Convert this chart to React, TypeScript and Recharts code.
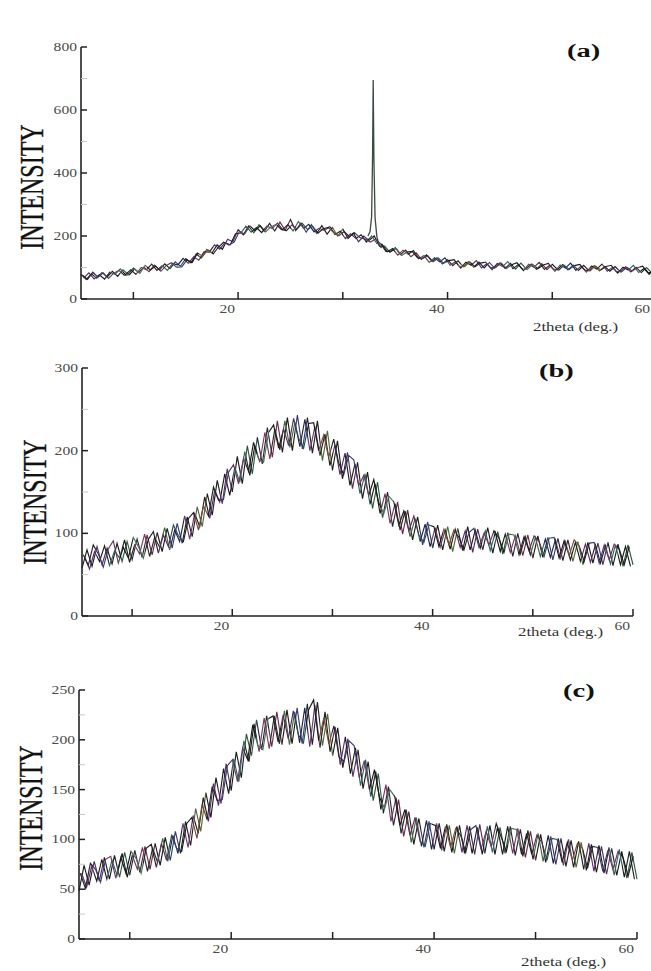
import React from "react";
import { Line, LineChart, XAxis, YAxis } from "recharts";

const SERIF = '"Liberation Serif", "Times New Roman", serif';

// scans are sampled every half degree; scans 2 and 3 are offset by 1/4 and 1/8 degree
const THETA_START = 5;
const THETA_STEP = 0.5;
const SCAN_OFFSETS = [0, 0.25, 0.125];

const xTicks = [10, 20, 30, 40, 50, 60];
const xLabels = [20, 40, 60];

// ---- (a) ----
const aScan1 = [
  78, 62, 80, 66, 84, 70, 88, 72, 93, 79,
  98, 84, 101, 87, 108, 92, 112, 96, 118, 104,
  128, 115, 143, 130, 158, 146, 172, 158, 190, 182,
  220, 204, 232, 210, 236, 214, 240, 216, 244, 218,
  252, 217, 241, 212, 236, 208, 233, 206, 228, 200,
  222, 192, 210, 182, 200, 186, 200, 168, 168, 148,
  163, 141, 155, 134, 147, 126, 140, 120, 131, 111,
  125, 106, 121, 103, 119, 101, 117, 99, 116, 98,
  115, 97, 113, 95, 114, 96, 111, 94, 112, 93,
  110, 94, 109, 92, 108, 91, 107, 90, 106, 89,
  104, 88, 103, 87, 102, 86, 101, 84, 100, 83,
  98,
];
const aScan2 = [
  66, 83, 64, 77, 63, 85, 78, 96, 77, 93,
  78, 100, 93, 111, 91, 106, 91, 113, 108, 129,
  113, 134, 123, 150, 149, 172, 158, 179, 172, 207,
  209, 231, 212, 227, 211, 232, 224, 241, 220, 236,
  216, 246, 224, 237, 213, 225, 217, 230, 205, 215,
  192, 207, 192, 204, 181, 200, 176, 174, 150, 160,
  139, 155, 142, 154, 128, 138, 116, 131, 118, 131,
  107, 118, 98, 117, 107, 122, 99, 112, 93, 113,
  103, 119, 96, 109, 90, 110, 101, 116, 94, 107,
  88, 108, 98, 114, 91, 104, 85, 105, 95, 111,
  88, 100, 82, 101, 92, 107, 84, 97, 78, 97,
];
const aScan3 = [
  76, 62, 85, 69, 83, 65, 82, 91, 76, 77,
  96, 81, 107, 92, 105, 88, 106, 115, 101, 102,
  124, 116, 146, 136, 156, 143, 165, 180, 171, 181,
  214, 206, 232, 217, 232, 213, 229, 237, 221, 217,
  235, 222, 240, 221, 231, 209, 223, 227, 211, 201,
  214, 198, 210, 195, 190, 181, 190, 175, 151, 152,
  160, 138, 149, 151, 131, 129, 137, 118, 130, 113,
  122, 125, 104, 103, 118, 102, 114, 117, 99, 101,
  114, 97, 109, 115, 96, 94, 110, 96, 108, 113,
  95, 92, 107, 94, 106, 110, 92, 89, 105, 92,
  103, 107, 88, 86, 101, 89, 99, 104, 85, 83,
];
const aPeakTheta = [32.4, 32.6, 32.75, 32.84, 32.9, 32.97, 33.08, 33.25, 33.45, 33.7];
const aPeak = [200, 214, 262, 450, 695, 440, 258, 198, 172, 162];
const aYTicks = [0, 100, 200, 300, 400, 500, 600, 700, 800];
const aYLabels = [0, 200, 400, 600, 800];

// ---- (b) ----
const bScan1 = [
  58, 80, 60, 84, 62, 82, 63, 88, 66, 90,
  68, 93, 71, 98, 74, 101, 78, 106, 82, 112,
  88, 120, 96, 132, 108, 148, 122, 164, 136, 178,
  150, 193, 160, 206, 172, 216, 184, 228, 192, 236,
  198, 240, 200, 243, 202, 240, 197, 236, 188, 224,
  176, 212, 166, 198, 154, 186, 142, 174, 130, 162,
  119, 150, 108, 138, 99, 128, 92, 120, 86, 114,
  82, 110, 80, 108, 78, 106, 79, 108, 77, 105,
  80, 107, 76, 102, 75, 101, 72, 100, 73, 98,
  70, 97, 71, 95, 68, 94, 67, 92, 66, 90,
  62, 89, 64, 88, 62, 89, 61, 87, 60, 86,
  62,
];
const bScan2 = [
  72, 57, 78, 66, 85, 61, 79, 70, 92, 65,
  86, 75, 99, 72, 95, 83, 107, 80, 104, 90,
  121, 93, 124, 108, 144, 118, 152, 138, 172, 146,
  180, 162, 199, 170, 206, 186, 222, 190, 226, 201,
  236, 204, 234, 205, 238, 200, 229, 194, 220, 182,
  207, 171, 197, 158, 184, 148, 172, 135, 160, 124,
  148, 112, 136, 104, 127, 96, 118, 90, 111, 84,
  107, 83, 104, 81, 105, 83, 103, 80, 104, 82,
  103, 79, 101, 78, 99, 77, 97, 75, 96, 74,
  95, 72, 93, 71, 92, 70, 90, 68, 89, 66,
  87, 65, 86, 64, 85, 63, 86, 62, 84, 60,
];
const bScan3 = [
  74, 61, 86, 75, 59, 81, 91, 64, 83, 70,
  95, 84, 70, 93, 102, 76, 98, 84, 110, 97,
  90, 118, 125, 104, 133, 121, 156, 140, 141, 174,
  183, 160, 191, 175, 210, 190, 186, 222, 231, 203,
  226, 206, 239, 215, 203, 233, 234, 200, 219, 192,
  214, 185, 171, 194, 189, 158, 170, 146, 165, 137,
  124, 145, 138, 110, 127, 103, 121, 98, 89, 110,
  108, 84, 105, 86, 104, 95, 80, 101, 106, 83,
  100, 86, 103, 94, 77, 99, 98, 74, 96, 79,
  97, 90, 72, 94, 95, 70, 91, 73, 92, 85,
  66, 88, 89, 64, 86, 68, 87, 81, 62, 84,
];
const bYTicks = [0, 50, 100, 150, 200, 250, 300];
const bYLabels = [0, 100, 200, 300];

// ---- (c) ----
const cScan1 = [
  48, 74, 54, 78, 58, 82, 60, 84, 62, 87,
  64, 89, 67, 93, 70, 96, 74, 102, 79, 108,
  86, 118, 94, 131, 108, 147, 122, 162, 136, 176,
  149, 188, 162, 206, 184, 220, 190, 224, 193, 228,
  195, 230, 196, 232, 196, 236, 195, 238, 194, 226,
  184, 212, 172, 201, 163, 190, 151, 178, 139, 166,
  126, 153, 114, 140, 103, 128, 95, 121, 92, 118,
  90, 116, 88, 114, 86, 114, 86, 113, 85, 115,
  86, 114, 85, 112, 86, 113, 84, 110, 82, 108,
  79, 105, 77, 103, 75, 101, 73, 99, 72, 97,
  69, 95, 67, 93, 65, 91, 64, 88, 61, 87,
  60,
];
const cScan2 = [
  66, 52, 73, 58, 80, 60, 79, 64, 86, 62,
  84, 70, 92, 68, 91, 77, 101, 78, 104, 86,
  116, 92, 124, 106, 142, 118, 156, 134, 171, 146,
  181, 158, 199, 178, 216, 188, 222, 191, 224, 196,
  229, 195, 228, 197, 232, 193, 235, 192, 228, 188,
  213, 175, 203, 166, 192, 154, 180, 143, 168, 130,
  155, 118, 142, 106, 130, 97, 122, 93, 119, 90,
  116, 89, 115, 87, 113, 87, 114, 86, 112, 85,
  113, 87, 112, 85, 113, 86, 111, 83, 109, 80,
  106, 78, 104, 76, 101, 74, 100, 72, 98, 70,
  96, 68, 94, 66, 92, 64, 90, 62, 88, 60,
];
const cScan3 = [
  66, 51, 76, 70, 57, 80, 83, 61, 82, 66,
  88, 81, 66, 91, 95, 72, 96, 79, 104, 91,
  88, 116, 122, 101, 135, 120, 153, 139, 140, 174,
  180, 158, 192, 180, 215, 194, 190, 221, 224, 198,
  225, 201, 229, 205, 197, 230, 240, 199, 222, 196,
  214, 183, 178, 199, 194, 162, 179, 150, 170, 142,
  131, 150, 143, 114, 130, 104, 122, 98, 93, 116,
  114, 91, 113, 92, 111, 104, 87, 110, 114, 90,
  108, 93, 116, 102, 88, 111, 110, 85, 106, 85,
  104, 97, 79, 101, 100, 77, 97, 79, 96, 91,
  71, 93, 92, 68, 89, 70, 88, 82, 63, 83,
];
const cYTicks = [0, 25, 50, 75, 100, 125, 150, 175, 200, 225, 250];
const cYLabels = [0, 50, 100, 150, 200, 250];

// ink colours cycled along each trace (the original traces change colour)
const INKS = [
  ["#1c1c1c", "#56305c", "#1c1c1c", "#2d5a3f", "#262640", "#6b2c4a", "#1c1c1c", "#3b3b78", "#222", "#4f6a35"],
  ["#5a2d6a", "#1e1e1e", "#2e6660", "#1e1e1e", "#7a3a5a", "#2a2a2a", "#3d6a3d", "#232345", "#6a3a6a", "#1e1e1e"],
  ["#262626", "#3c3c6e", "#6a3a60", "#1a1a1a", "#4a7050", "#202020", "#5c2c5c", "#2b4f5e", "#1a1a1a", "#7a4a3a"],
];
const BANDS = 44;

type Pt = { t: number; v: number };
const toPoints = (vals: number[], start: number): Pt[] =>
  vals.map((v, i) => ({ t: start + THETA_STEP * i, v }));

interface Plot {
  left: number;
  right: number;
  top: number;
  bottom: number;
}

const Y_W = 40;
const X_H = 30;
const PAGE_W = 651;

function makeYTick(left: number, labelled: number[]) {
  return (props: any) => {
    const { y, payload } = props;
    const major = labelled.includes(payload.value);
    return (
      <g>
        <line
          x1={left}
          x2={left + 6}
          y1={y}
          y2={y}
          stroke={major ? "#222" : "#c8c8c8"}
          strokeWidth={major ? 1.5 : 1}
        />
        {major && (
          <text
            transform={`translate(${left - 4},${y + 4}) scale(1.3,1)`}
            textAnchor="end"
            fontSize={12}
            fontFamily={SERIF}
            fill="#4a4a4a"
          >
            {payload.value}
          </text>
        )}
      </g>
    );
  };
}

function makeXTick(bottom: number) {
  return (props: any) => {
    const { x, payload } = props;
    const major = xLabels.includes(payload.value);
    const lx = Math.min(x - 3, PAGE_W - 1);
    return (
      <g>
        <line x1={x} x2={x} y1={bottom} y2={bottom - 7} stroke="#222" strokeWidth={1.5} />
        {major && (
          <text
            transform={`translate(${lx},${bottom + 14}) scale(1.3,1)`}
            textAnchor="end"
            fontSize={12}
            fontFamily={SERIF}
            fill="#4a4a4a"
          >
            {payload.value}
          </text>
        )}
      </g>
    );
  };
}

interface PanelProps {
  top: number;
  width: number;
  height: number;
  plot: Plot;
  yMax: number;
  yTicks: number[];
  yLabels: number[];
  scans: number[][];
  peak?: Pt[];
}

function Panel({ top, width, height, plot, yMax, yTicks, yLabels, scans, peak }: PanelProps) {
  const margin = {
    top: plot.top,
    left: plot.left - Y_W,
    right: width - plot.right,
    bottom: height - plot.bottom - X_H,
  };
  return (
    <div style={{ position: "absolute", left: 0, top }}>
      <LineChart width={width} height={height} margin={margin}>
        <XAxis
          type="number"
          dataKey="t"
          domain={[5, 60]}
          ticks={xTicks}
          interval={0}
          height={X_H}
          axisLine={{ stroke: "#222", strokeWidth: 1.6 }}
          tickLine={false}
          tick={makeXTick(plot.bottom)}
        />
        <YAxis
          type="number"
          dataKey="v"
          domain={[0, yMax]}
          ticks={yTicks}
          interval={0}
          width={Y_W}
          axisLine={{ stroke: "#222", strokeWidth: 1.6 }}
          tickLine={false}
          tick={makeYTick(plot.left, yLabels)}
        />
        {scans.map((scan, i) => (
          <Line
            key={i}
            data={toPoints(scan, THETA_START + SCAN_OFFSETS[i])}
            dataKey="v"
            stroke={`url(#ink${i})`}
            strokeWidth={1.15}
            dot={false}
            isAnimationActive={false}
          />
        ))}
        {peak && (
          <Line
            data={peak}
            dataKey="v"
            stroke="#3a4a3e"
            strokeWidth={1.3}
            dot={false}
            isAnimationActive={false}
          />
        )}
      </LineChart>
    </div>
  );
}

function Intensity({ cx, cy }: { cx: number; cy: number }) {
  return (
    <text
      transform={`translate(${cx + 11},${cy}) rotate(-90) scale(1,1.42)`}
      textAnchor="middle"
      fontSize={24}
      fontFamily={SERIF}
      fill="#111"
      stroke="#111"
      strokeWidth={0.25}
    >
      INTENSITY
    </text>
  );
}

function Tag({ x, y, children }: { x: number; y: number; children: string }) {
  return (
    <text transform={`translate(${x},${y}) scale(1.5,1)`} fontSize={19} fontWeight="bold" fontFamily={SERIF} fill="#111">
      {children}
    </text>
  );
}

function AxisTitle({ x, y }: { x: number; y: number }) {
  return (
    <text transform={`translate(${x},${y}) scale(1.35,1)`} fontSize={12.5} fontFamily={SERIF} fill="#333">
      2theta (deg.)
    </text>
  );
}

function Gradient({ id, inks }: { id: string; inks: string[] }) {
  const stops: React.ReactNode[] = [];
  for (let k = 0; k < BANDS; k++) {
    const c = inks[k % inks.length];
    stops.push(<stop key={`${k}a`} offset={k / BANDS} stopColor={c} />);
    stops.push(<stop key={`${k}b`} offset={(k + 1) / BANDS} stopColor={c} />);
  }
  return (
    <linearGradient id={id} x1="0" y1="0" x2="1" y2="0">
      {stops}
    </linearGradient>
  );
}

export default function App() {
  const aPeakPts = aPeakTheta.map((t, i) => ({ t, v: aPeak[i] }));
  return (
    <div
      style={{
        position: "absolute",
        left: 0,
        top: 0,
        width: PAGE_W,
        height: 971,
        overflow: "hidden",
        background: "#fff",
      }}
    >
      <svg width={PAGE_W} height={971} style={{ position: "absolute", left: 0, top: 0 }}>
        <defs>
          {INKS.map((inks, i) => (
            <Gradient key={i} id={`ink${i}`} inks={inks} />
          ))}
        </defs>
        <Intensity cx={32} cy={187} />
        <Intensity cx={35} cy={502} />
        <Intensity cx={31} cy={808} />
        <Tag x={567} y={57}>(a)</Tag>
        <Tag x={539} y={377}>(b)</Tag>
        <Tag x={563} y={697}>(c)</Tag>
        <AxisTitle x={533} y={331} />
        <AxisTitle x={518} y={636} />
        <AxisTitle x={521} y={966} />
      </svg>
      <Panel
        top={0}
        width={680}
        height={340}
        plot={{ left: 81, right: 657, top: 47, bottom: 299 }}
        yMax={800}
        yTicks={aYTicks}
        yLabels={aYLabels}
        scans={[aScan1, aScan2, aScan3]}
        peak={aPeakPts}
      />
      <Panel
        top={330}
        width={PAGE_W}
        height={320}
        plot={{ left: 82, right: 633, top: 38, bottom: 286 }}
        yMax={300}
        yTicks={bYTicks}
        yLabels={bYLabels}
        scans={[bScan1, bScan2, bScan3]}
      />
      <Panel
        top={650}
        width={PAGE_W}
        height={321}
        plot={{ left: 79, right: 637, top: 40, bottom: 289 }}
        yMax={250}
        yTicks={cYTicks}
        yLabels={cYLabels}
        scans={[cScan1, cScan2, cScan3]}
      />
    </div>
  );
}
